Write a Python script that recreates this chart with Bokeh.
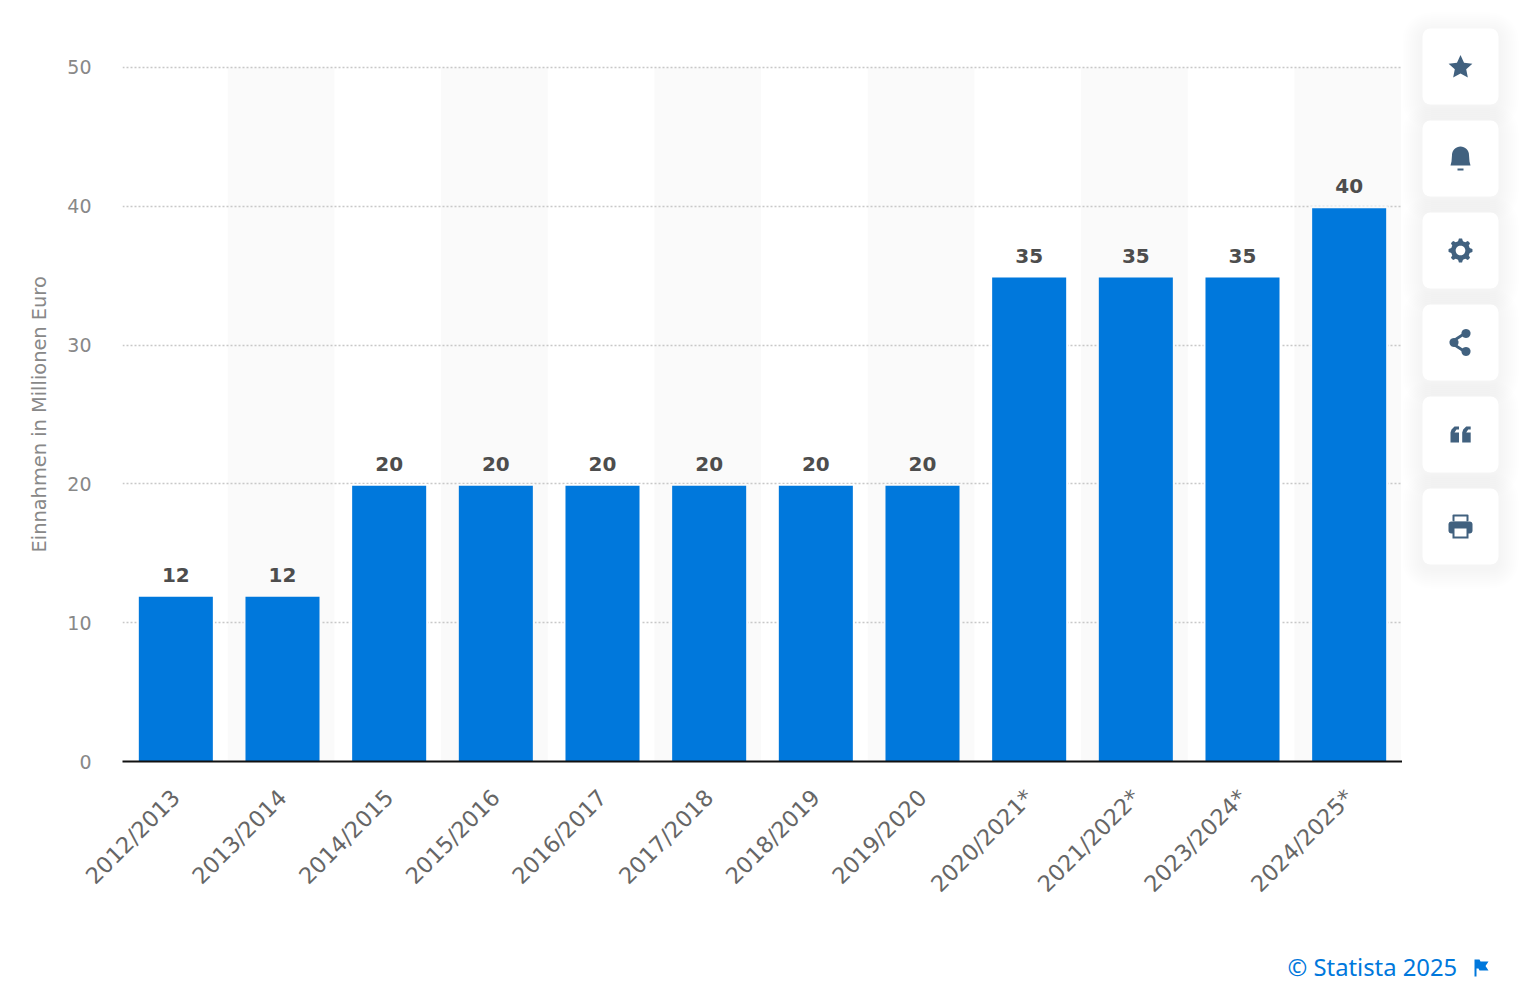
import math
from bokeh.core.properties import value
from bokeh.embed import file_html
from bokeh.models import ColumnDataSource, FactorRange, Range1d, Title
from bokeh.plotting import figure
from bokeh.resources import INLINE
from bokeh.transform import dodge

seasons = ["2012/2013", "2013/2014", "2014/2015", "2015/2016", "2016/2017", "2017/2018",
           "2018/2019", "2019/2020", "2020/2021*", "2021/2022*", "2023/2024*", "2024/2025*"]
revenue = [12, 12, 20, 20, 20, 20, 20, 20, 35, 35, 35, 40]
y_ticks = [0, 10, 20, 30, 40, 50]
y_title = "Einnahmen in Millionen Euro"
credit = "© Statista 2025"

BLUE = "#0078dc"
ICON = "#41617f"
BAND = "#fafafa"

p = figure(width=1402, height=940, output_backend="svg", toolbar_location=None,
           x_range=FactorRange(factors=seasons, range_padding=0), y_range=Range1d(0, 50.5),
           min_border_left=122, min_border_right=0, min_border_top=60, min_border_bottom=179,
           styles={"position": "absolute", "left": "0px", "top": "0px"})
p.outline_line_color = None
p.background_fill_color = "white"
p.border_fill_color = "white"

band = ColumnDataSource(dict(x=seasons[1::2], top=[y_ticks[-1]] * len(seasons[1::2])))
p.vbar(x=dodge("x", -0.014, range=p.x_range), top="top", bottom=0, width=1.0, source=band,
       fill_color=BAND, line_color=None, level="underlay")

p.xgrid.visible = False
p.ygrid.grid_line_color = "#c8c8c8"
p.ygrid.grid_line_dash = [2, 2]
p.ygrid.grid_line_width = 1.5
p.ygrid.level = "underlay"
p.ygrid.ticker = y_ticks

src = ColumnDataSource(dict(x=seasons, y=revenue, label=[str(v) for v in revenue],
                            edge=[BAND if i % 2 else "white" for i in range(len(seasons))]))
# halo that interrupts the grid lines, then the bar itself (2px lower than the value line, as in the reference)
p.vbar(x="x", top="y", bottom=0, width=0.731, source=src, fill_color="edge", line_color=None)
p.vbar(x="x", top=dodge("y", -0.14), bottom=0, width=0.694, source=src, fill_color=BLUE, line_color=None)
p.text(x="x", y="y", text="label", source=src, y_offset=-13, text_align="center", text_baseline="bottom",
       text_font=value("DejaVu Sans"), text_font_style="bold", text_font_size="20px", text_color="#4d4d4d")

p.xaxis.axis_line_color = "#111111"
p.xaxis.axis_line_width = 2
p.xaxis.major_tick_line_color = None
p.xaxis.minor_tick_line_color = None
p.xaxis.major_label_orientation = math.pi / 4
p.xaxis.major_label_text_font = "DejaVu Sans"
p.xaxis.major_label_text_font_size = "22.5px"
p.xaxis.major_label_text_color = "#666666"
p.xaxis.major_label_standoff = 26

p.yaxis.ticker = y_ticks
p.yaxis.axis_line_color = None
p.yaxis.major_tick_line_color = None
p.yaxis.minor_tick_line_color = None
p.yaxis.major_label_text_font = "DejaVu Sans"
p.yaxis.major_label_text_font_size = "19px"
p.yaxis.major_label_text_color = "#888888"
p.yaxis.major_label_standoff = 25
p.add_layout(Title(text=y_title, align="left", offset=209, standoff=28, text_font="DejaVu Sans",
                   text_font_style="normal", text_font_size="19.4px", text_color="#888888"), "left")

# ---- side panel with the action buttons; its scales are page pixels
s = figure(width=126, height=620, output_backend="svg", toolbar_location=None,
           x_range=Range1d(1402, 1528), y_range=Range1d(620, 0),
           x_axis_location=None, y_axis_location=None, min_border=0,
           styles={"position": "absolute", "left": "1402px", "top": "0px"})
s.grid.visible = False
s.outline_line_color = None
s.border_fill_color = "white"

def box(l, t, r, b, color, alpha=1.0, radius=0):
    s.quad(left=l, right=r, top=t, bottom=b, fill_color=color, fill_alpha=alpha, line_color=None, border_radius=radius)

def poly(pts, color=ICON):
    s.patch(x=[a for a, _ in pts], y=[b for _, b in pts], fill_color=color, line_color=None)

def circle(cx, cy, r, color=ICON, n=24):
    poly([(cx + r * math.cos(2 * math.pi * i / n), cy + r * math.sin(2 * math.pi * i / n)) for i in range(n)], color)

tops = [28, 120, 212, 304, 396, 488]
for t in tops:
    for g in range(20, 0, -2):
        box(1422 - g, t - g + 4, 1498 + g, t + 76 + g + 4, "#5a7a99", 0.006, 8 + g)
for t in tops:
    box(1422, t, 1498, t + 76, "white", 1.0, 8)

# star
cx, cy = 1460, 67
poly([(cx + (12.5 if i % 2 == 0 else 6.0) * math.sin(math.pi * i / 5),
       cy - (12.5 if i % 2 == 0 else 6.0) * math.cos(math.pi * i / 5)) for i in range(10)])
# bell
cx, cy = 1460, 158
bell = [(cx - 10, cy + 7), (cx - 9, cy + 3)]
bell += [(cx + 8.5 * math.cos(math.pi + math.pi * i / 16), cy - 3.5 + 8.5 * math.sin(math.pi + math.pi * i / 16)) for i in range(17)]
bell += [(cx + 9, cy + 3), (cx + 10, cy + 7)]
poly(bell)
box(cx - 3, cy + 10, cx + 3, cy + 12, ICON)
# gear
cx, cy = 1460, 250
gear = []
for i in range(48):
    a = 2 * math.pi * i / 48
    r = 12 if (i % 6) in (5, 0, 1) else 9.5
    gear.append((cx + r * math.sin(a), cy - r * math.cos(a)))
poly(gear)
circle(cx, cy, 4.8, "white")
# share
cx, cy = 1460, 342
poly([(cx + 4.5, cy - 11), (cx + 6, cy - 8.5), (cx - 7, cy + 0), (cx + 6, cy + 8.5), (cx + 4.5, cy + 11), (cx - 10, cy + 1.5), (cx - 10, cy - 1.5)])
circle(cx + 5.5, cy - 9, 4.5)
circle(cx + 5.5, cy + 9, 4.5)
circle(cx - 6.5, cy, 4.5)
# quote
cx, cy = 1460, 434
for dx in (-10, 1.7):
    poly([(cx + dx, cy + 8), (cx + dx, cy - 2), (cx + dx + 1, cy - 5), (cx + dx + 4, cy - 8), (cx + dx + 8.5, cy - 8),
          (cx + dx + 8.5, cy - 5), (cx + dx + 6, cy - 5), (cx + dx + 4, cy - 2), (cx + dx + 8.5, cy - 2), (cx + dx + 8.5, cy + 8)])
# printer
cx, cy = 1460, 526
box(cx - 8, cy - 12, cx + 8, cy - 5, ICON, 1.0, 1)
box(cx - 6, cy - 10, cx + 6, cy - 5, "white")
box(cx - 12, cy - 5, cx + 12, cy + 7, ICON, 1.0, 3)
box(cx - 8, cy + 0, cx + 8, cy + 12, ICON)
box(cx - 6, cy + 2, cx + 6, cy + 10, "white")

# ---- footer with the credit; scales are page pixels too
f = figure(width=1528, height=56, output_backend="svg", toolbar_location=None,
           x_range=Range1d(0, 1528), y_range=Range1d(996, 940),
           x_axis_location=None, y_axis_location=None, min_border=0,
           styles={"position": "absolute", "left": "0px", "top": "940px"})
f.grid.visible = False
f.outline_line_color = None
f.border_fill_color = "white"
f.text(x=[1287], y=[966], text=[credit], text_font=value("Noto Sans"), text_font_size="23.8px",
       text_color=BLUE, text_baseline="middle")
fx, fy = 1474, 959
flag = [(fx, fy), (fx + 5, fy), (fx + 6, fy + 2), (fx + 14, fy + 2), (fx + 11, fy + 6.5), (fx + 14, fy + 11), (fx + 5, fy + 11),
        (fx + 4, fy + 9), (fx + 2, fy + 9), (fx + 2, fy + 17), (fx, fy + 17)]
f.patch(x=[a for a, _ in flag], y=[b for _, b in flag], fill_color=BLUE, line_color=None)

open("out.html", "w").write(file_html([p, s, f], INLINE))
